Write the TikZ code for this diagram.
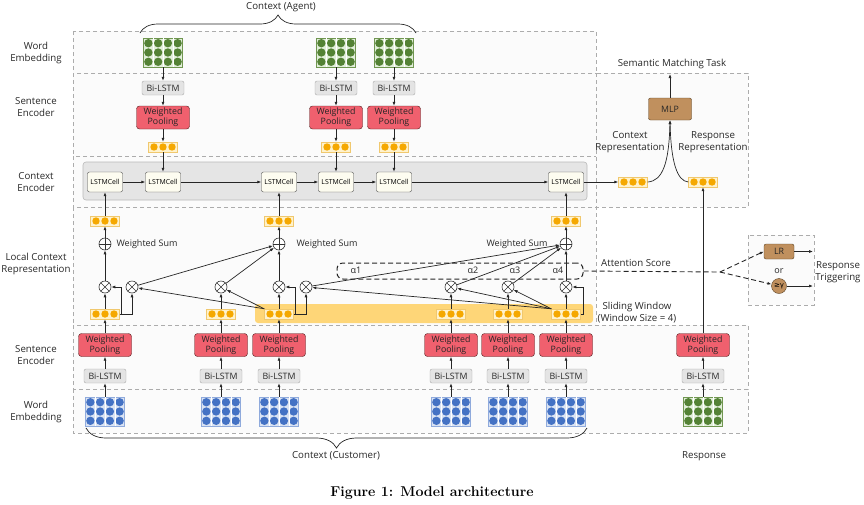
\documentclass[tikz,border=0pt]{standalone}
\usepackage{fontspec}
\setsansfont{Open Sans}
\newfontfamily\symfont{DejaVu Sans}
\usetikzlibrary{arrows.meta,decorations.pathreplacing,calc}
\definecolor{dgreen}{RGB}{84,130,53}
\definecolor{lgreen}{RGB}{226,239,218}
\definecolor{gborder}{RGB}{112,150,80}
\definecolor{dblue}{RGB}{68,114,196}
\definecolor{lblue}{RGB}{218,227,243}
\definecolor{bborder}{RGB}{143,170,220}
\definecolor{vorange}{RGB}{245,168,0}
\definecolor{vfill}{RGB}{255,242,204}
\definecolor{vborder}{RGB}{240,200,110}
\definecolor{wpred}{RGB}{240,96,110}
\definecolor{wpborder}{RGB}{80,30,30}
\definecolor{bigray}{RGB}{228,228,228}
\definecolor{biborder}{RGB}{170,170,170}
\definecolor{cellfill}{RGB}{253,252,240}
\definecolor{panelgray}{RGB}{229,229,229}
\definecolor{brownf}{RGB}{192,144,94}
\definecolor{brownb}{RGB}{90,65,35}
\definecolor{slide}{RGB}{254,214,120}
\definecolor{txt}{RGB}{40,40,40}
\newcommand\embdots[3]{%
  \foreach \i in {-1.5,-0.5,0.5,1.5}{\foreach \j in {-1,0,1}{\fill[#2] ($(#1.center)+(\i*9.75,\j*9.3)$) circle (4.2);}}
  \foreach \i in {-1,0,1}{\draw[#3,line width=0.5pt] ($(#1.north)+(\i*9.75,0)$) -- ($(#1.south)+(\i*9.75,0)$);}}
\newcommand\vecdots[1]{\foreach \i in {-1,0,1}{\fill[vorange] ($(#1.center)+(\i*9,0)$) circle (3.7);}}
\tikzset{
  panel/.style={draw=gray!65, dash pattern=on 4pt off 3pt, fill=gray!3, line width=0.7pt},
  lab/.style={align=center, font=\sffamily\fontsize{9.7}{12}\selectfont, text=txt},
  slab/.style={align=center, font=\sffamily\fontsize{9}{11}\selectfont, text=txt},
  embG/.style={draw=gborder, fill=lgreen, minimum width=39pt, minimum height=29pt, inner sep=0pt},
  embB/.style={draw=bborder, fill=lblue, minimum width=39pt, minimum height=29pt, inner sep=0pt},
  bilstm/.style={draw=biborder, fill=bigray, rounded corners=2pt, minimum width=42pt, minimum height=14pt, inner sep=0pt, font=\sffamily\fontsize{8.8}{9}\selectfont, text=txt},
  wpbox/.style={draw=wpborder, fill=wpred, rounded corners=3pt, minimum width=53pt, minimum height=23pt, inner sep=0pt, align=center, font=\sffamily\fontsize{8.8}{10}\selectfont, text=black!85},
  vecbox/.style={draw=vborder, fill=vfill, minimum width=29pt, minimum height=10pt, inner sep=0pt},
  cellbox/.style={draw=black!70, fill=cellfill, rounded corners=2pt, minimum width=35pt, minimum height=20pt, inner sep=0pt, font=\sffamily\fontsize{6.9}{7}\selectfont, text=black},
  opcirc/.style={circle, draw=black!80, minimum size=12pt, inner sep=0pt, fill=white, line width=0.6pt},
  oplus/.style={opcirc, path picture={\draw[black!80,line width=0.6pt] (path picture bounding box.north) -- (path picture bounding box.south) (path picture bounding box.west) -- (path picture bounding box.east);}},
  otimes/.style={opcirc, path picture={\draw[black!80,line width=0.6pt] (path picture bounding box.north west) -- (path picture bounding box.south east) (path picture bounding box.south west) -- (path picture bounding box.north east);}},
  arr/.style={-{Latex[length=4pt,width=3pt]}, line width=0.7pt, draw=black!85},
  dasharr/.style={-{Latex[length=4pt,width=3pt]}, line width=0.9pt, draw=black!85, dash pattern=on 5pt off 3pt},
  brownbox/.style={draw=brownb, fill=brownf, rounded corners=2pt, inner sep=0pt, font=\sffamily\fontsize{8.8}{9}\selectfont, text=black!85},
  attbox/.style={draw=black!85, line width=1pt, dash pattern=on 5pt off 3pt, rounded corners=6pt, minimum width=246pt, minimum height=16pt, inner sep=0pt},
}
\begin{document}
\begin{tikzpicture}[x=1pt,y=-1pt]
\useasboundingbox (0,0) rectangle (864,504);
% panels
\draw[panel] (73,31) rectangle (596,73);
\draw[panel] (73,73) rectangle (596,156);
\draw[panel] (73,156) rectangle (596,207);
\draw[panel] (73,207) rectangle (596,325);
\draw[panel] (73,325) rectangle (748,389);
\draw[panel] (73,389) rectangle (748,433);
\draw[panel] (596,73) rectangle (748,207);
\draw[panel] (748,235) rectangle (814,305);
\draw[draw=gray!55, fill=panelgray, rounded corners=3pt, line width=0.6pt] (83,162) rectangle (587,200);
\fill[slide, rounded corners=3pt] (255,304) rectangle (593,323);
% row labels
\node[lab] (l1) at (36,53) {Word\\Embedding};
\node[lab] (l2) at (36,107) {Sentence\\Encoder};
\node[lab] (l3) at (36,182) {Context\\Encoder};
\node[lab] (l4) at (36,264) {Local Context\\Representation};
\node[lab] (l5) at (36,355) {Sentence\\Encoder};
\node[lab] (l6) at (36,412) {Word\\Embedding};
% braces
\draw[line width=0.7pt, black!85, decorate, decoration={brace, amplitude=18pt}] (140,33) -- (416,33);
\node[lab] (ctxa) at (281,7) {Context (Agent)};
\draw[line width=0.7pt, black!85, decorate, decoration={brace, mirror, amplitude=20pt}] (86,428) -- (587,428);
\node[lab] (ctxc) at (336,456) {Context (Customer)};
\node[lab] (resp) at (704,456) {Response};
% agent columns
\foreach \n/\x in {1/163,2/336,3/394}{
  \node[embG] (ea\n) at (\x,52.5) {};
  \embdots{ea\n}{dgreen}{white}
  \node[bilstm] (ba\n) at (\x,88) {Bi-LSTM};
  \node[wpbox] (wa\n) at (\x,117.5) {Weighted\\Pooling};
  \node[vecbox] (va\n) at (\x,147) {};
  \vecdots{va\n}
  \draw[arr] (ea\n) -- (ba\n);
  \draw[arr] (ba\n) -- (wa\n);
  \draw[arr] (wa\n) -- (va\n);
}
% cells
\foreach \n/\x in {1/105,2/163,3/279,4/336,5/394,6/566}{
  \node[cellbox] (c\n) at (\x,182) {LSTMCell};
}
\draw[arr] (va1) -- (c2);
\draw[arr] (va2) -- (c4);
\draw[arr] (va3) -- (c5);
\draw[arr] (c1) -- (c2);
\draw[arr] (c2) -- (c3);
\draw[arr] (c3) -- (c4);
\draw[arr] (c4) -- (c5);
\draw[arr] (c5) -- (c6);
% customer columns
\foreach \n/\x in {1/105,2/221,3/279,4/451,5/508,6/566}{
  \node[embB] (eb\n) at (\x,411.5) {};
  \embdots{eb\n}{dblue}{white}
  \node[bilstm] (bb\n) at (\x,376) {Bi-LSTM};
  \node[wpbox] (wb\n) at (\x,345) {Weighted\\Pooling};
  \node[vecbox] (iv\n) at (\x,314) {};
  \vecdots{iv\n}
  \draw[arr] (eb\n) -- (bb\n);
  \draw[arr] (bb\n) -- (wb\n);
  \draw[arr] (wb\n) -- (iv\n);
}
% response column
\node[embG] (er) at (703,411.5) {};
\embdots{er}{dgreen}{white}
\node[bilstm] (br) at (703,376) {Bi-LSTM};
\node[wpbox] (wr) at (703,345) {Weighted\\Pooling};
\draw[arr] (er) -- (br);
\draw[arr] (br) -- (wr);
% semantic matching
\node[vecbox] (crv) at (633,182) {};
\vecdots{crv}
\node[vecbox] (rrv) at (703,182) {};
\vecdots{rrv}
\draw[arr] (c6) -- (crv);
\draw[arr] (wr) -- (rrv);
\node[brownbox, minimum width=43pt, minimum height=22pt] (mlp) at (670,109) {MLP};
\coordinate (smt) at (670,74);
\draw[arr] (mlp) -- (smt);
\node[lab] (smtl) at (672,64) {Semantic Matching Task};
\draw[arr] (crv.east) .. controls (663,181) and (669,162) .. (mlp.south);
\draw[arr] (rrv.west) .. controls (677,181) and (671,162) .. (mlp.south);
\node[lab] (crl) at (630,142) {Context\\Representation};
\node[lab] (rrl) at (713,142) {Response\\Representation};
% local context operators
\foreach \n/\x in {1/105,2/279,3/566}{
  \node[vecbox] (ov\n) at (\x,221) {};
  \vecdots{ov\n}
  \node[oplus] (p\n) at (\x,244) {};
}
\foreach \n/\x in {1/105,2/132,3/221,4/279,5/306,6/451,7/508,8/566}{
  \node[otimes] (m\n) at (\x,287) {};
}
\node[slab] (ws1) at (147,244) {Weighted Sum};
\node[slab] (ws2) at (327,244) {Weighted Sum};
\node[slab] (ws3) at (517,244) {Weighted Sum};
% attention box
\node[attbox] (att) at (460,271) {};
\node[slab] (a1) at (356,270) {α1};
\node[slab] (a2) at (473,270) {α2};
\node[slab] (a3) at (515,270) {α3};
\node[slab] (a4) at (558,270) {α4};
% group 1
\draw[arr] (iv1) -- (m1);
\draw[arr] (iv1.east) -- ++(2,0) |- (m1.east);
\draw[arr] (iv1.east) -| (m2.south);
\draw[arr] (m1) -- (p1);
\draw[arr] (p1) -- (ov1);
\draw[arr] (ov1) -- (c1);
% group 2
\draw[arr] (iv2) -- (m3);
\draw[arr] (iv3) -- (m4);
\draw[arr] (iv3.north west) -- (m2);
\draw[arr] (iv3.north west) -- (m3);
\draw[arr] (iv3.east) -- ++(2,0) |- (m4.east);
\draw[arr] (iv3.east) -| (m5.south);
\draw[arr] (m2) -- (p2);
\draw[arr] (m3) -- (p2);
\draw[arr] (m4) -- (p2);
\draw[arr] (p2) -- (ov2);
\draw[arr] (ov2) -- (c3);
% group 3
\draw[arr] (iv4) -- (m6);
\draw[arr] (iv5) -- (m7);
\draw[arr] (iv6) -- (m8);
\draw[arr] (iv6.north west) -- (m5);
\draw[arr] (iv6.north west) -- (m6);
\draw[arr] (iv6.north west) -- (m7);
\draw[arr] (iv6.east) -- ++(3,0) |- (m8.east);
\draw[arr] (m5) -- (p3);
\draw[arr] (m6) -- (p3);
\draw[arr] (m7) -- (p3);
\draw[arr] (m8) -- (p3);
\draw[arr] (p3) -- (ov3);
\draw[arr] (ov3) -- (c6);
% side labels
\node[lab] (swl) at (637,313) {Sliding Window\\(Window Size = 4)};
\node[lab] (asl) at (636,263) {Attention Score};
% response triggering
\node[brownbox, minimum width=30pt, minimum height=15pt] (lr) at (779,251.5) {LR};
\node[slab] (orl) at (779,271) {or};
\node[circle, draw=brownb, fill=brownf, minimum size=15pt, inner sep=0pt, font=\symfont\fontsize{7}{7}\selectfont] (gam) at (779,286) {≥γ};
\coordinate (split) at (720,272);
\draw[line width=0.9pt, black!85, dash pattern=on 5pt off 3pt] (att.east) -- (split);
\draw[dasharr] (split) -- (lr.west);
\draw[dasharr] (split) -- (gam);
\coordinate (t1) at (813,251.5);
\coordinate (t2) at (813,286);
\draw[arr] (lr) -- (t1);
\draw[arr] (gam) -- (t2);
\node[lab] (rtl) at (838,272) {Response\\Triggering};
% caption
\node[font=\rmfamily\bfseries\fontsize{14.2}{16}\selectfont, text=black] (cap) at (432,493) {Figure 1: Model architecture};
\end{tikzpicture}
\end{document}
